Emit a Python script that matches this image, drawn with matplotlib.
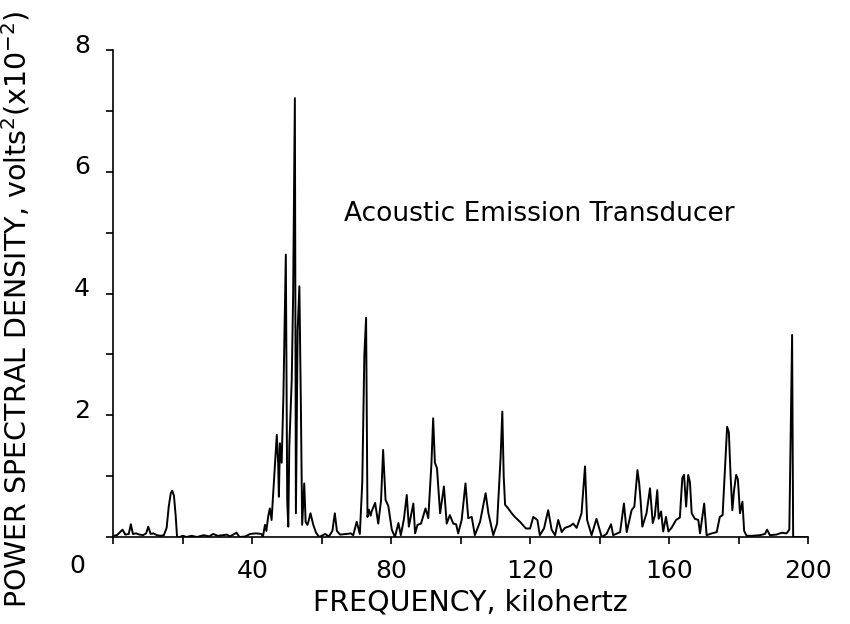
import matplotlib
matplotlib.use('Agg')
import matplotlib.pyplot as plt
import matplotlib.transforms as mtransforms

# spectrum (kHz, volts^2 x 10^-2)
freq_khz = [
    0.0, 1.0, 2.6, 3.4, 4.4, 5.0, 5.6, 6.5, 7.5, 8.5, 9.4, 10.0, 10.7, 11.5,
    12.5, 13.5, 14.5, 15.3, 15.9, 16.5, 16.9, 17.4, 17.9, 18.3, 19.0, 20.0,
    21.0, 22.5, 24.0, 26.0, 27.5, 28.7, 30.0, 31.5, 32.6, 33.5, 35.4, 36.3,
    38.0, 39.3, 41.0, 42.6, 43.0, 43.6, 44.0, 44.5, 45.0, 45.5, 46.5, 47.0,
    47.4, 47.6, 47.9, 48.4, 48.9, 49.6, 50.0, 50.3, 50.6, 51.3, 51.7, 52.2,
    52.5, 53.0, 53.5, 53.9, 54.3, 54.9, 55.3, 55.8, 56.1, 56.7, 57.5, 58.3,
    59.2, 60.9, 62.0, 63.0, 63.7, 64.3, 65.2, 67.1, 68.3, 69.0, 70.0, 70.9,
    71.6, 72.2, 72.7, 73.1, 73.5, 74.0, 74.3, 75.3, 76.2, 77.0, 77.6, 78.3,
    79.1, 80.1, 81.0, 82.0, 82.7, 83.6, 84.4, 85.0, 86.3, 86.8, 87.5, 88.5,
    89.8, 90.6, 91.5, 92.0, 92.5, 93.1, 94.0, 95.1, 95.9, 96.8, 97.8, 98.6,
    99.2, 100.2, 101.3, 102.1, 103.1, 104.0, 105.5, 107.1, 107.9, 109.3,
    110.4, 111.4, 111.9, 112.3, 112.7, 113.6, 114.6, 115.5, 117.0, 118.7,
    119.9, 120.8, 122.0, 122.7, 123.9, 125.1, 126.1, 127.1, 128.0, 129.0,
    129.9, 131.4, 132.3, 133.3, 134.7, 135.7, 136.3, 137.6, 139.0, 140.5,
    141.9, 143.2, 143.8, 145.8, 146.9, 147.7, 149.1, 149.9, 150.8, 151.3,
    151.7, 152.2, 153.4, 154.4, 155.2, 155.8, 156.5, 156.9, 157.6, 158.2,
    159.0, 159.7, 160.6, 161.9, 163.0, 163.7, 164.2, 164.8, 165.4, 165.9,
    166.4, 167.3, 168.3, 168.8, 170.0, 170.7, 172.2, 173.6, 174.5, 175.3,
    176.0, 176.6, 177.1, 177.6, 178.1, 178.6, 179.2, 179.7, 180.3, 181.0,
    181.5, 182.2, 184.0, 186.0, 187.5, 188.1, 188.9, 190.8, 192.3, 193.7,
    194.5, 195.3, 195.6, 197.0, 200.0,
]
psd = [
    0.02, 0.03, 0.12, 0.04, 0.05, 0.21, 0.05, 0.06, 0.04, 0.03, 0.06, 0.17, 0.05, 0.06,
    0.03, 0.02, 0.03, 0.15, 0.50, 0.72, 0.76, 0.68, 0.35, 0.00, 0.00, 0.02,
    0.00, 0.02, 0.00, 0.03, 0.01, 0.05, 0.02, 0.03, 0.04, 0.01, 0.07, 0.00,
    0.01, 0.05, 0.06, 0.05, 0.00, 0.20, 0.10, 0.33, 0.47, 0.28, 1.21, 1.68,
    1.20, 0.66, 1.54, 1.22, 2.31, 4.64, 0.60, 0.17, 1.49, 2.58, 3.95, 7.21,
    0.39, 3.40, 4.12, 2.31, 0.20, 0.88, 0.25, 0.20, 0.25, 0.39, 0.20, 0.07,
    0.00, 0.05, 0.01, 0.10, 0.39, 0.10, 0.04, 0.05, 0.06, 0.03, 0.25, 0.05,
    0.90, 3.00, 3.60, 0.33, 0.45, 0.35, 0.42, 0.56, 0.22, 0.60, 1.43, 0.61,
    0.51, 0.12, 0.00, 0.23, 0.03, 0.30, 0.69, 0.17, 0.55, 0.06, 0.20, 0.22,
    0.47, 0.31, 1.20, 1.95, 1.22, 1.13, 0.39, 0.83, 0.22, 0.36, 0.22, 0.21,
    0.06, 0.28, 0.88, 0.31, 0.33, 0.03, 0.25, 0.72, 0.39, 0.03,
    0.22, 1.30, 2.06, 1.00, 0.53, 0.47, 0.39, 0.33, 0.25, 0.14,
    0.14, 0.33, 0.28, 0.03, 0.14, 0.44, 0.12, 0.03, 0.28, 0.08,
    0.15, 0.18, 0.22, 0.15, 0.39, 1.16, 0.28, 0.03, 0.30, 0.00,
    0.05, 0.21, 0.03, 0.08, 0.55, 0.08, 0.44, 0.50, 1.10, 0.88,
    0.60, 0.17, 0.39, 0.80, 0.23, 0.35, 0.77, 0.30, 0.42, 0.09,
    0.33, 0.09, 0.15, 0.28, 0.32, 0.97, 1.02, 0.50, 1.02, 0.90,
    0.39, 0.30, 0.28, 0.06, 0.55, 0.03, 0.06, 0.08, 0.33, 0.36,
    1.16, 1.81, 1.72, 1.00, 0.44, 0.77, 1.02, 0.95, 0.39, 0.58,
    0.10, 0.02, 0.02, 0.03, 0.05, 0.12, 0.03, 0.04, 0.07, 0.06,
    0.12, 3.32, 0.00, 0.00, 0.00,
]

x_ticks = [0, 20, 40, 60, 80, 100, 120, 140, 160, 180, 200]
x_labels = ['', '', '40', '', '80', '', '120', '', '160', '', '200']
y_ticks = [0, 1, 2, 3, 4, 5, 6, 7, 8]
y_labels = ['', '', '2', '', '4', '', '6', '', '8']

plt.rcParams['font.family'] = ['DejaVu Sans']

fig = plt.figure(figsize=(8.5, 6.24), dpi=100)
ax = fig.add_axes([0.1335, 0.1394, 0.8176, 0.7804])

ax.plot(freq_khz, psd, color='black', linewidth=1.4)

ax.set_xlim(0, 200)
ax.set_ylim(0, 8)
ax.spines['top'].set_visible(False)
ax.spines['right'].set_visible(False)
ax.spines['left'].set_linewidth(1.2)
ax.spines['bottom'].set_linewidth(1.2)

ax.set_xticks(x_ticks)
ax.set_xticklabels(x_labels, fontsize=18)
ax.set_yticks(y_ticks)
ax.set_yticklabels(y_labels, fontsize=18)
ax.tick_params(axis='x', direction='out', length=5, width=1.2, pad=11)
ax.tick_params(axis='y', direction='out', length=5, width=1.2, pad=12)

# y labels sit a bit above their ticks in the original
shift = mtransforms.ScaledTranslation(0, 0.07, fig.dpi_scale_trans)
for lab in ax.get_yticklabels():
    lab.set_transform(lab.get_transform() + shift)

# shared origin label at the lower-left corner
fig.text(77 / 850, 1 - 566 / 624, '0', fontsize=18, ha='center', va='center')

ax.text(66.2, 5.31, 'Acoustic Emission Transducer', fontsize=19,
        ha='left', va='center')

fig.text(470 / 850, 1 - 603 / 624, 'FREQUENCY, kilohertz', fontsize=20.5,
         ha='center', va='center')
fig.text(16 / 850, 1 - 309 / 624,
         'POWER SPECTRAL DENSITY, volts$^2$(x10$^{-2}$)',
         fontsize=20.5, rotation=90, ha='center', va='center')

fig.savefig('out.png', dpi=100)
